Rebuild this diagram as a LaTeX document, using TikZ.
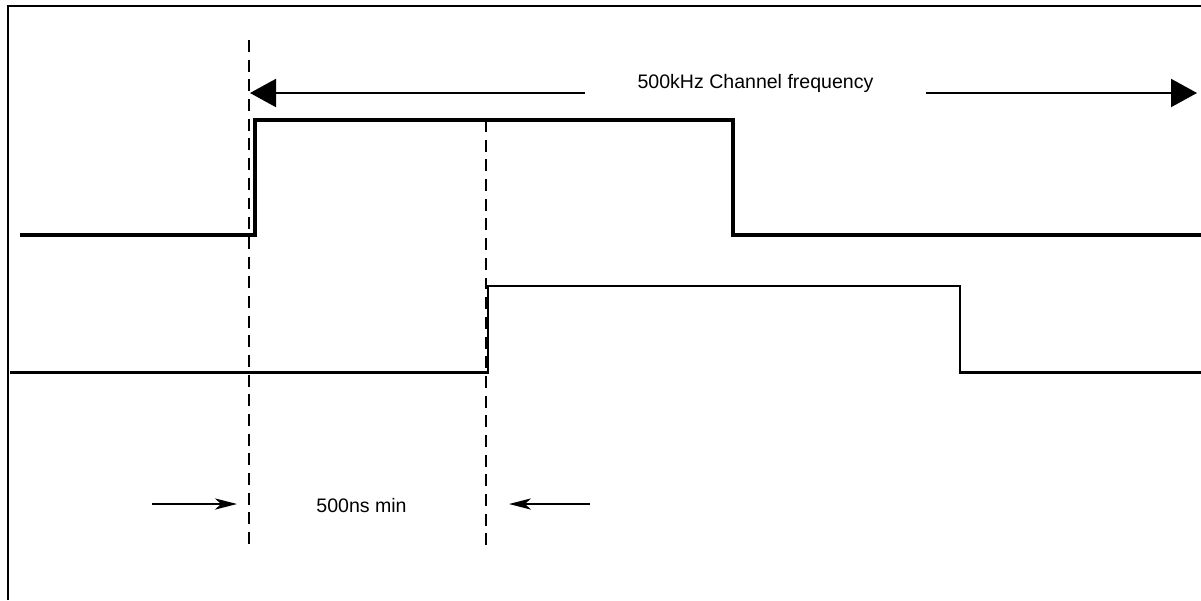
\documentclass[tikz,border=0pt]{standalone}
\usepackage{fontspec}
\setmainfont{Liberation Sans}
\usetikzlibrary{arrows.meta}

\begin{document}
\begin{tikzpicture}[x=0.025cm,y=-0.025cm,line width=1.5pt,
		font=\fontsize{13.9}{16}\selectfont,
		guide/.style={line width=1.6pt,dash pattern=on 8.5pt off 5.5pt},
		bigtip/.style={-{Triangle[length=0.65cm,width=0.7cm]}},
		smalltip/.style={line width=1.4pt,-{Stealth[length=0.55cm,width=0.28cm,inset=0.15cm]}}]
			\useasboundingbox (0,0) rectangle (1201,600);
			% frame
			\draw[line width=1.7pt] (8,600)--(8,6)--(1201,6);
			% guide lines
			\coordinate (t1) at (249,40);
			\coordinate (b1) at (249,545);
			\coordinate (t2) at (486,120);
			\coordinate (b2) at (486,545);
			\draw[guide] (t1)--(b1);
			\draw[guide] (t2)--(b2);
			% channel frequency
			\coordinate (fl) at (250,93);
			\coordinate (fr) at (1197,93);
			\node[anchor=base,inner xsep=1.3cm] (freq) at (755.5,88) {500kHz Channel frequency};
			\draw[bigtip] (freq.west |- fl)--(fl);
			\draw[bigtip] (freq.east |- fr)--(fr);
			% signals
			\draw[line width=2.5pt] (20,235)-|(255,120)-|(733,235)--(1201,235);
			\draw[line width=1.9pt] (10,372.5)-|(488,286)-|(960,372.5)--(1201,372.5);
			% minimum delay
			\node[anchor=base] (delay) at (361.5,512) {500ns min};
			\coordinate (dl) at (237,504);
			\coordinate (dr) at (509,504);
			\draw[smalltip] (dl)++(-85,0)--(dl);
			\draw[smalltip] (dr)++(81,0)--(dr);
		\end{tikzpicture}
\end{document}
